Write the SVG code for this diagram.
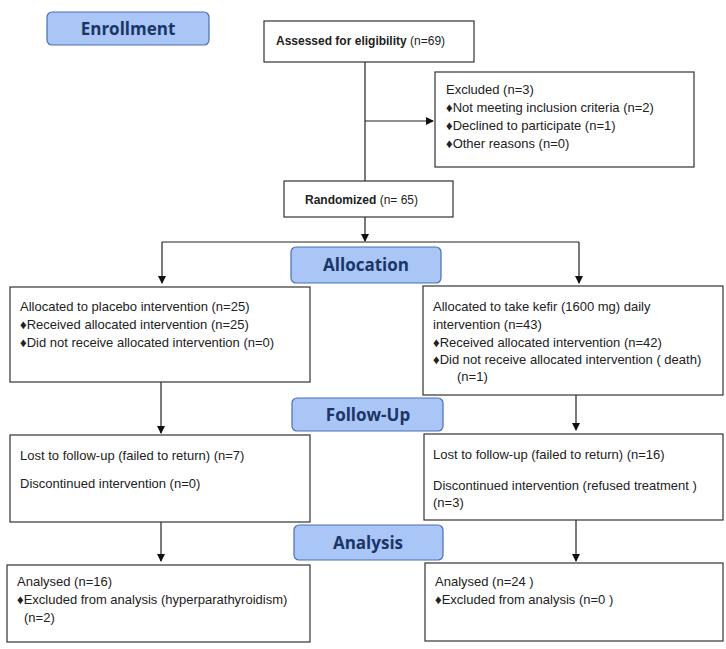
<svg xmlns="http://www.w3.org/2000/svg" width="726" height="649" viewBox="0 0 726 649">
<style>
.b{fill:#fff;stroke:#333;stroke-width:1.2}
.h{fill:#a9c6f7;stroke:#4a6fb5;stroke-width:1.2}
.ht{font:bold 17px "Open Sans",sans-serif;fill:#1b3566;text-anchor:middle}
text{font-family:"Liberation Sans",Arial,sans-serif;font-size:13px;fill:#222}
.bd{font-weight:bold}
.sm{font-size:12px}
.c{stroke:#222;stroke-width:1.2;fill:none}
</style>
<defs><marker id="a" markerWidth="8" markerHeight="8" refX="7" refY="4" orient="auto" markerUnits="userSpaceOnUse"><path d="M0,0L8,4L0,8z" fill="#111"/></marker></defs>
<rect width="726" height="649" fill="#fff"/>
<g id="connectors">
<path class="c" d="M365,62V181"/>
<path class="c" d="M365,121H433" marker-end="url(#a)"/>
<path class="c" d="M365,217V241" marker-end="url(#a)"/>
<path class="c" d="M162,242H579"/>
<path class="c" d="M162,242V283" marker-end="url(#a)"/>
<path class="c" d="M579,242V283" marker-end="url(#a)"/>
<path class="c" d="M161,382V433" marker-end="url(#a)"/>
<path class="c" d="M576,395V430" marker-end="url(#a)"/>
<path class="c" d="M161,522V561" marker-end="url(#a)"/>
<path class="c" d="M576,520V561" marker-end="url(#a)"/>
</g>
<g id="enrollment"><rect class="h" x="47" y="12" width="162" height="33" rx="5"/><text class="ht" x="128" y="35">Enrollment</text></g>
<g id="assessed"><rect class="b" x="264" y="21" width="210" height="41"/><text class="sm" x="276" y="45"><tspan class="bd">Assessed for eligibility</tspan> (n=69)</text></g>
<g id="excluded"><rect class="b" x="435" y="72" width="259" height="95"/>
<text x="446" y="94">Excluded (n=3)</text>
<text x="446" y="112">♦Not meeting inclusion criteria (n=2)</text>
<text x="446" y="130">♦Declined to participate (n=1)</text>
<text x="446" y="148">♦Other reasons (n=0)</text></g>
<g id="randomized"><rect class="b" x="284" y="181" width="169" height="36"/><text class="sm" x="305" y="204"><tspan class="bd">Randomized</tspan> (n= 65)</text></g>
<g id="allocation"><rect class="h" x="291" y="247" width="150" height="36" rx="5"/><text class="ht" x="366" y="271">Allocation</text></g>
<g id="alloc-left"><rect class="b" x="10" y="287" width="300" height="95"/>
<text x="20" y="311">Allocated to placebo intervention (n=25)</text>
<text x="20" y="329">♦Received allocated intervention (n=25)</text>
<text x="20" y="347">♦Did not receive allocated intervention  (n=0)</text></g>
<g id="alloc-right"><rect class="b" x="423" y="286" width="300" height="109"/>
<text x="433" y="311">Allocated to take kefir (1600 mg) daily</text>
<text x="433" y="329">intervention (n=43)</text>
<text x="433" y="347">♦Received allocated intervention (n=42)</text>
<text x="433" y="364">♦Did not receive allocated intervention ( death)</text>
<text x="457" y="381">(n=1)</text></g>
<g id="followup"><rect class="h" x="292" y="398" width="151" height="33" rx="5"/><text class="ht" x="368" y="421">Follow-Up</text></g>
<g id="fu-left"><rect class="b" x="10" y="435" width="300" height="87"/>
<text x="20" y="460">Lost to follow-up (failed to return) (n=7)</text>
<text x="20" y="488">Discontinued intervention (n=0)</text></g>
<g id="fu-right"><rect class="b" x="424" y="434" width="299" height="86"/>
<text x="433" y="459">Lost to follow-up (failed to return) (n=16)</text>
<text x="433" y="490">Discontinued intervention (refused treatment )</text>
<text x="433" y="507">(n=3)</text></g>
<g id="analysis"><rect class="h" x="294" y="525" width="149" height="35" rx="5"/><text class="ht" x="368" y="549">Analysis</text></g>
<g id="an-left"><rect class="b" x="7" y="565" width="303" height="77"/>
<text x="17" y="586">Analysed (n=16)</text>
<text x="17" y="604">♦Excluded from analysis (hyperparathyroidism)</text>
<text x="24" y="622">(n=2)</text></g>
<g id="an-right"><rect class="b" x="425" y="563" width="298" height="78"/>
<text x="435" y="586">Analysed (n=24 )</text>
<text x="435" y="604">♦Excluded from analysis (n=0 )</text></g>
</svg>
